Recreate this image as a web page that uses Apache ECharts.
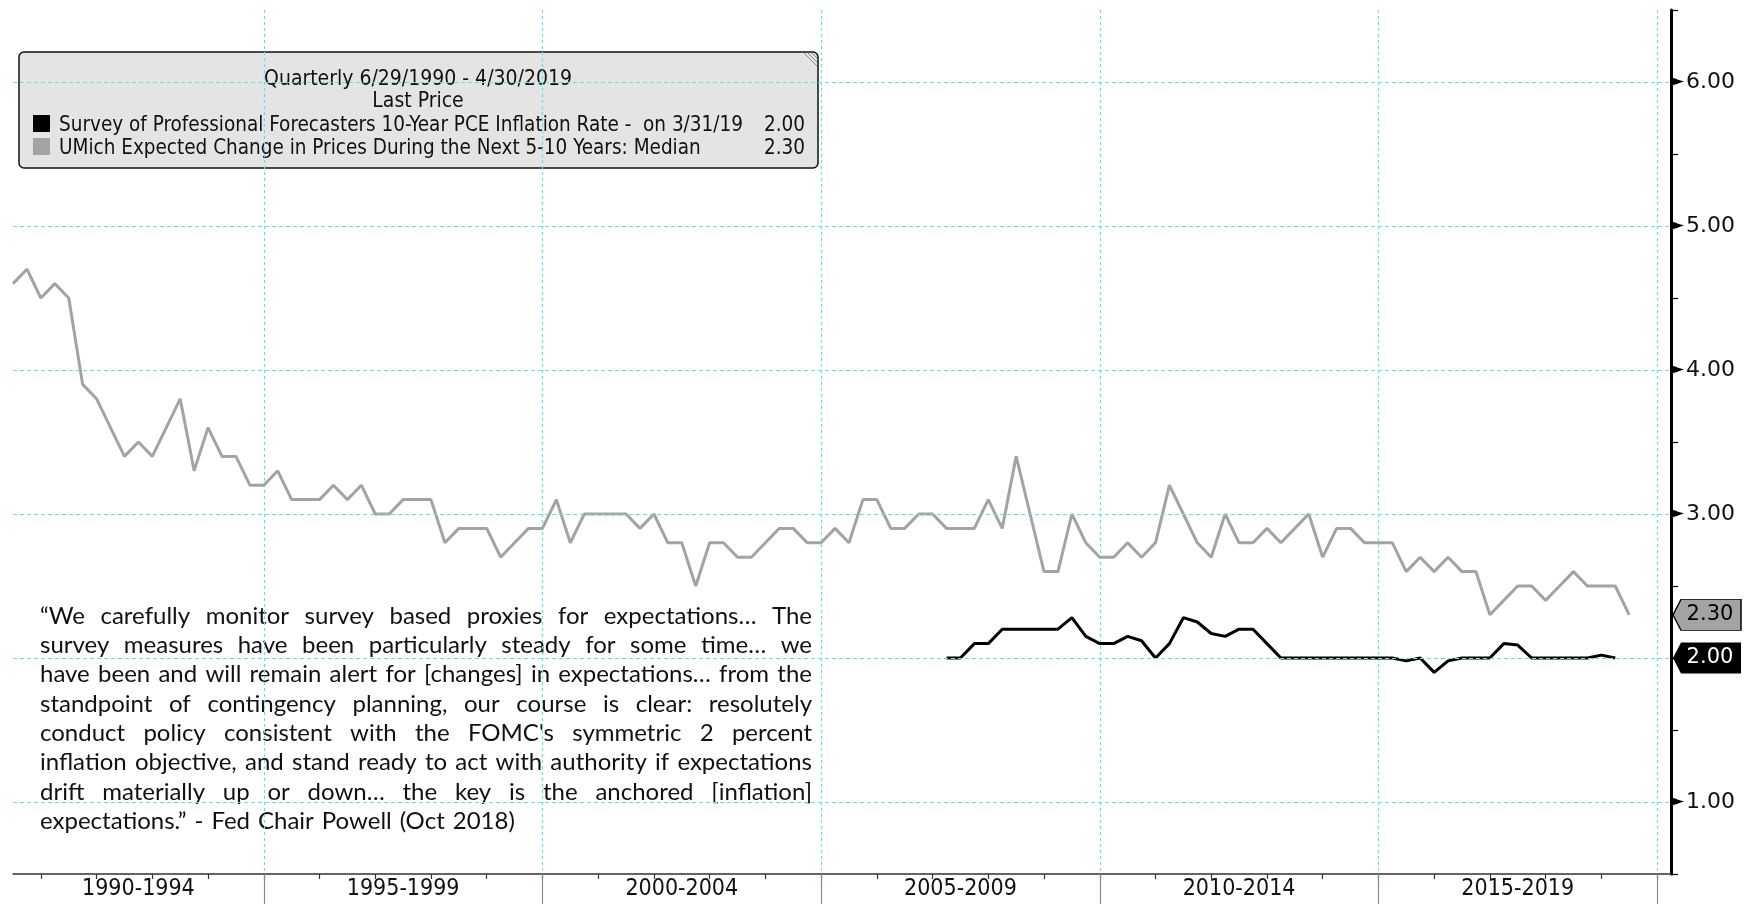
<!DOCTYPE html>
<html>
<head>
<meta charset="utf-8">
<title>Inflation expectations</title>
<script src="https://cdn.jsdelivr.net/npm/echarts@6/dist/echarts.min.js"></script>
<style>
  html, body { margin: 0; padding: 0; background: #fff; }
  #chart { width: 1752px; height: 904px; }
</style>
</head>
<body>
<div id="chart"></div>
<script>
// quarter-end categories 1990Q2 .. 2020Q1 (axis runs a bit past the data)
const quarters = [];
for (let y = 1990; y <= 2020; y++) {
  for (let q = 1; q <= 4; q++) {
    if ((y === 1990 && q < 2) || (y === 2020 && q > 1)) continue;
    quarters.push(y + 'Q' + q);
  }
}

const periodLabels = ['1990-1994', '1995-1999', '2000-2004', '2005-2009', '2010-2014', '2015-2019'];
const yLabelValues = [1, 2, 3, 4, 5, 6];

// UMich expected change in prices next 5-10 yrs, median (1990Q2 .. 2019Q2)
const umich = [
  4.6, 4.7, 4.5, 4.6, 4.5, 3.9, 3.8, 3.6, 3.4, 3.5,
  3.4, 3.6, 3.8, 3.3, 3.6, 3.4, 3.4, 3.2, 3.2, 3.3,
  3.1, 3.1, 3.1, 3.2, 3.1, 3.2, 3.0, 3.0, 3.1, 3.1,
  3.1, 2.8, 2.9, 2.9, 2.9, 2.7, 2.8, 2.9, 2.9, 3.1,
  2.8, 3.0, 3.0, 3.0, 3.0, 2.9, 3.0, 2.8, 2.8, 2.5,
  2.8, 2.8, 2.7, 2.7, 2.8, 2.9, 2.9, 2.8, 2.8, 2.9,
  2.8, 3.1, 3.1, 2.9, 2.9, 3.0, 3.0, 2.9, 2.9, 2.9,
  3.1, 2.9, 3.4, 3.0, 2.6, 2.6, 3.0, 2.8, 2.7, 2.7,
  2.8, 2.7, 2.8, 3.2, 3.0, 2.8, 2.7, 3.0, 2.8, 2.8,
  2.9, 2.8, 2.9, 3.0, 2.7, 2.9, 2.9, 2.8, 2.8, 2.8,
  2.6, 2.7, 2.6, 2.7, 2.6, 2.6, 2.3, 2.4, 2.5, 2.5,
  2.4, 2.5, 2.6, 2.5, 2.5, 2.5, 2.3
];

// SPF 10-year PCE inflation (2007Q1 .. 2019Q1)
const spfStart = '2007Q1';
const spf = [
  2.0, 2.0, 2.1, 2.1, 2.2, 2.2, 2.2, 2.2, 2.2, 2.28,
  2.15, 2.1, 2.1, 2.15, 2.12, 2.0, 2.1, 2.28, 2.25, 2.17,
  2.15, 2.2, 2.2, 2.1, 2.0, 2.0, 2.0, 2.0, 2.0, 2.0,
  2.0, 2.0, 2.0, 1.98, 2.0, 1.9, 1.98, 2.0, 2.0, 2.0,
  2.1, 2.09, 2.0, 2.0, 2.0, 2.0, 2.0, 2.02, 2.0
];

const quoteLines = [
  '\u201CWe carefully monitor survey based proxies for expectations\u2026 The',
  'survey measures have been particularly steady for some time\u2026 we',
  'have been and will remain alert for [changes] in expectations\u2026 from the',
  'standpoint of contingency planning, our course is clear: resolutely',
  "conduct policy consistent with the FOMC's symmetric 2 percent",
  'inflation objective, and stand ready to act with authority if expectations',
  'drift materially up or down\u2026 the key is the anchored [inflation]',
  'expectations.\u201D - Fed Chair Powell (Oct 2018)'
];

const spfName = 'Survey of Professional Forecasters 10-Year PCE Inflation Rate -  on 3/31/19';
const umichName = 'UMich Expected Change in Prices During the Next 5-10 Years: Median';

const spfData = quarters.map(() => null);
const spfOffset = quarters.indexOf(spfStart);
spf.forEach((v, i) => { spfData[spfOffset + i] = v; });

const lastQ = quarters[quarters.length - 1];
const umichLast = umich[umich.length - 1];
const spfLast = spf[spf.length - 1];

const CYAN = '#5fe3e8';
const qYear = c => parseInt(c.slice(0, 4), 10);
const qNum = c => parseInt(c.slice(5), 10);

// label slot for each 5-year block: mid-block, except the first one which is
// cut by the left edge and sits a quarter later
const isPeriodLabel = c => qYear(c) === 1992 ? qNum(c) === 3 : (qNum(c) === 2 && qYear(c) % 5 === 2);

// justified quote block, laid out word by word
const quoteFont = '24px Lato';
const measure = document.createElement('canvas').getContext('2d');
measure.font = quoteFont;
const quoteLeft = 40, quoteRight = 812, quoteTop = 616, quoteStep = 29.3;
const quoteEls = [];
quoteLines.forEach((line, li) => {
  const words = line.split(' ');
  const widths = words.map(w => measure.measureText(w).width);
  const total = widths.reduce((a, b) => a + b, 0);
  const last = li === quoteLines.length - 1;
  const gap = last ? measure.measureText(' ').width * 1.3
    : Math.max(3, (quoteRight - quoteLeft - total) / (words.length - 1));
  let x = quoteLeft;
  words.forEach((w, wi) => {
    quoteEls.push({
      type: 'text', x: x, y: quoteTop + li * quoteStep, silent: true,
      style: { text: w, font: quoteFont, fill: '#111', verticalAlign: 'middle' }
    });
    x += widths[wi] + gap;
  });
});

const titleFont = '21px "DejaVu Sans Condensed", "DejaVu Sans"';
const legendFont = '20.5px "DejaVu Sans Condensed", "DejaVu Sans"';

const chart = echarts.init(document.getElementById('chart'));
chart.setOption({
  animation: false,
  backgroundColor: '#fff',
  grid: { left: 13, right: 81, top: 10, bottom: 30, containLabel: false },
  xAxis: [
    {
      type: 'category',
      data: quarters,
      boundaryGap: false,
      axisLine: { lineStyle: { color: '#333', width: 1.5 } },
      axisTick: {
        length: 5,
        interval: (i, c) => qNum(c) === 4,
        lineStyle: { color: '#333', width: 1.2 }
      },
      axisLabel: {
        interval: (i, c) => isPeriodLabel(c),
        formatter: c => periodLabels[Math.floor((qYear(c) - 1990) / 5)] || '',
        margin: 4,
        fontFamily: '"Liberation Sans Narrow", "DejaVu Sans Condensed", sans-serif',
        fontSize: 23,
        color: '#111'
      },
      splitLine: {
        show: true,
        interval: (i, c) => qNum(c) === 4 && (qYear(c) + 1) % 5 === 0,
        lineStyle: { color: CYAN, type: [3, 3], width: 1.2 }
      }
    },
    {
      // long grey separators between the 5-year blocks
      type: 'category',
      data: quarters,
      boundaryGap: false,
      position: 'bottom',
      axisLine: { show: false },
      axisLabel: { show: false },
      splitLine: { show: false },
      axisTick: {
        length: 32,
        interval: (i, c) => qNum(c) === 4 && (qYear(c) + 1) % 5 === 0,
        lineStyle: { color: '#8a8a8a', width: 1.2 }
      }
    }
  ],
  yAxis: {
    type: 'value',
    position: 'right',
    min: 0.5,
    max: 6.5,
    interval: 0.5,
    axisLine: { show: true, lineStyle: { color: '#000', width: 3 } },
    axisTick: { show: true, length: 7, lineStyle: { color: '#000', width: 1.2 } },
    splitLine: { show: false },
    axisLabel: {
      margin: 0,
      formatter: v => {
        if (!yLabelValues.includes(v)) return '';
        if (Math.abs(v - spfLast) < 0.15 || Math.abs(v - umichLast) < 0.15) return '';
        return '{arr|\u25BA}{num|' + v.toFixed(2) + '}';
      },
      rich: {
        arr: { fontSize: 17, color: '#000', fontFamily: 'DejaVu Sans' },
        num: { fontSize: 22, color: '#111', fontFamily: 'DejaVu Sans', padding: [0, 0, 0, 2] }
      }
    }
  },
  series: [
    {
      // horizontal guide lines
      type: 'line',
      data: [],
      silent: true,
      z: 1,
      markLine: {
        silent: true,
        symbol: 'none',
        label: { show: false },
        lineStyle: { color: CYAN, type: [4, 3], width: 1.2 },
        data: yLabelValues.map(v => ({ yAxis: v }))
      }
    },
    {
      name: umichName,
      type: 'line',
      data: umich,
      symbol: 'none',
      z: 3,
      lineStyle: { color: '#a3a3a3', width: 3 },
      markPoint: {
        symbol: 'path://M0,15.5L8,0L68,0L68,31L8,31Z',
        symbolSize: [68, 31],
        symbolOffset: [36, 0],
        itemStyle: { color: '#a3a3a3', borderColor: '#000', borderWidth: 1 },
        label: {
          show: true, formatter: () => umichLast.toFixed(2), color: '#000',
          fontFamily: 'DejaVu Sans', fontSize: 21, offset: [3, 0]
        },
        data: [{ coord: [lastQ, umichLast] }]
      }
    },
    {
      name: spfName,
      type: 'line',
      data: spfData,
      symbol: 'none',
      z: 4,
      lineStyle: { color: '#000', width: 3 },
      markPoint: {
        symbol: 'path://M0,15.5L8,0L68,0L68,31L8,31Z',
        symbolSize: [68, 31],
        symbolOffset: [36, 0],
        itemStyle: { color: '#000' },
        label: {
          show: true, formatter: () => spfLast.toFixed(2), color: '#fff',
          fontFamily: 'DejaVu Sans', fontSize: 21, offset: [3, 0]
        },
        data: [{ coord: [lastQ, spfLast] }]
      }
    }
  ],
  graphic: [
    {
      type: 'group',
      z: 100,
      children: [
        {
          type: 'rect',
          shape: { x: 19, y: 52, width: 799, height: 116, r: 5 },
          style: { fill: '#e4e4e4', stroke: '#111', lineWidth: 1.5 }
        },
        { type: 'line', shape: { x1: 804, y1: 53, x2: 817, y2: 66 }, style: { stroke: '#888', lineWidth: 1 } },
        { type: 'line', shape: { x1: 808, y1: 53, x2: 817, y2: 62 }, style: { stroke: '#888', lineWidth: 1 } },
        { type: 'line', shape: { x1: 812, y1: 53, x2: 817, y2: 58 }, style: { stroke: '#888', lineWidth: 1 } },
        {
          type: 'text', x: 418, y: 80,
          style: { text: 'Quarterly 6/29/1990 - 4/30/2019', font: titleFont, fill: '#111', align: 'center', verticalAlign: 'middle' }
        },
        {
          type: 'text', x: 418, y: 102,
          style: { text: 'Last Price', font: titleFont, fill: '#111', align: 'center', verticalAlign: 'middle' }
        },
        { type: 'rect', shape: { x: 33, y: 115, width: 17, height: 17 }, style: { fill: '#000' } },
        {
          type: 'text', x: 59, y: 125.5,
          style: { text: spfName, font: legendFont, fill: '#111', verticalAlign: 'middle' }
        },
        {
          type: 'text', x: 805, y: 125.5,
          style: { text: spfLast.toFixed(2), font: legendFont, fill: '#111', align: 'right', verticalAlign: 'middle' }
        },
        { type: 'rect', shape: { x: 33, y: 138, width: 17, height: 17 }, style: { fill: '#a3a3a3' } },
        {
          type: 'text', x: 59, y: 148.5,
          style: { text: umichName, font: legendFont, fill: '#111', verticalAlign: 'middle' }
        },
        {
          type: 'text', x: 805, y: 148.5,
          style: { text: umichLast.toFixed(2), font: legendFont, fill: '#111', align: 'right', verticalAlign: 'middle' }
        }
      ]
    },
    { type: 'group', z: 100, children: quoteEls }
  ]
});
</script>
</body>
</html>
